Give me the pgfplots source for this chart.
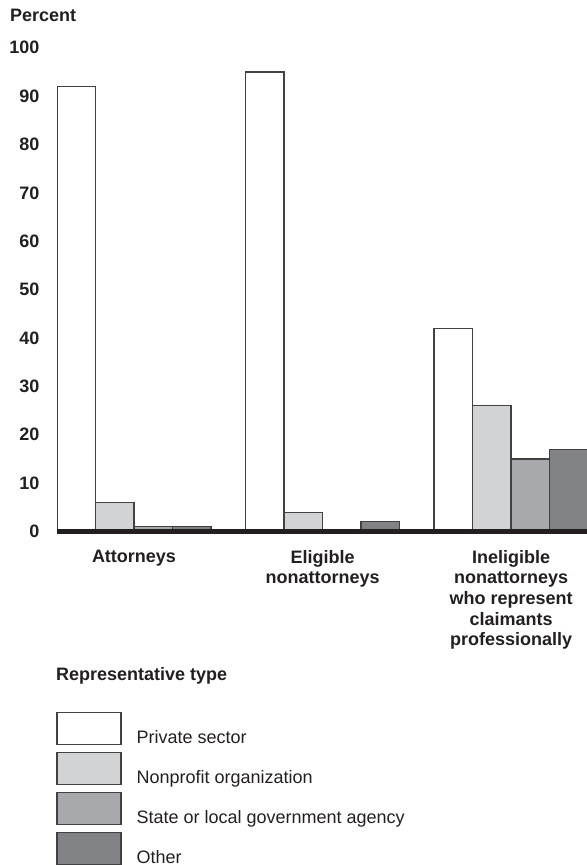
\documentclass[border=0pt]{standalone}
\usepackage{fontspec}
\setmainfont{Liberation Sans}
\usepackage{pgfplots}
\pgfplotsset{compat=1.18}

\definecolor{textc}{HTML}{231F20}
\definecolor{edgec}{HTML}{414042}
\definecolor{nonprof}{HTML}{D1D3D4}
\definecolor{stategov}{HTML}{A7A9AC}
\definecolor{otherc}{HTML}{808285}

\pgfplotsset{
    boxlegend/.style = {
        legend image code/.code = {\draw[##1] (0bp,-7bp) rectangle (64bp,25bp);}
    },
    repbar/.style = {
        boxlegend,
        draw = edgec,
        line width = 1.2bp
    }
}

\begin{document}
\color{textc}
\begin{tikzpicture}
    \useasboundingbox (0,0) rectangle (587bp,865bp);
    \begin{axis}[
        at = {(57bp,333.5bp)},
        anchor = south west,
        scale only axis,
        width = 530bp,
        height = 483.7bp,
        xmin = -0.4085, xmax = 2.403,
        ymin = 0, ymax = 100,
        ybar = 0pt,
        bar width = 38.5bp,
        axis on top,
        axis x line* = bottom,
        axis y line* = left,
        x axis line style = {-, line width = 4bp, draw = textc},
        y axis line style = {draw = none},
        major tick length = 0pt,
        xtick = {0,1,2},
        xticklabels = {Attorneys, {Eligible\\nonattorneys},
            {Ineligible\\nonattorneys\\who represent\\claimants\\professionally}},
        xticklabel style = {align = center, anchor = north, inner sep = 0pt,
            yshift = -18.5bp, font = \bfseries\fontsize{18bp}{20.6bp}\selectfont},
        ytick = {0,10,...,100},
        /pgf/number format/assume math mode = true,
        yticklabel style = {anchor = east, inner sep = 0pt, xshift = -17.5bp,
            font = \bfseries\fontsize{18bp}{20bp}\selectfont},
        ylabel = {Percent},
        every axis y label/.style = {at = {(axis description cs:-0.0887,1.0545)},
            anchor = base west, inner sep = 0pt,
            font = \bfseries\fontsize{18bp}{20bp}\selectfont},
        legend cell align = left,
        legend style = {at = {(-0.0011,-0.3735)}, anchor = north west,
            draw = none, fill = none, inner sep = 0pt, outer sep = 0pt,
            nodes = {inner sep = 0pt},
            column sep = 15bp, row sep = 6.8bp,
            font = \fontsize{18bp}{21bp}\selectfont}
    ]
        \addplot [repbar, fill = white] coordinates {(0,92) (1,95) (2,42)};
        \addlegendentry{Private sector}
        \addplot [repbar, fill = nonprof] coordinates {(0,6) (1,4) (2,26)};
        \addlegendentry{Nonprofit organization}
        \addplot [repbar, fill = stategov] coordinates {(0,1) (2,15)};
        \addlegendentry{State or local government agency}
        \addplot [repbar, fill = otherc] coordinates {(0,1) (1,2) (2,17)};
        \addlegendentry{Other}
    \end{axis}
    \node [anchor = base west, inner sep = 0pt,
        font = \bfseries\fontsize{18bp}{20bp}\selectfont]
        at (56bp,184bp) {Representative type};
\end{tikzpicture}
\end{document}
